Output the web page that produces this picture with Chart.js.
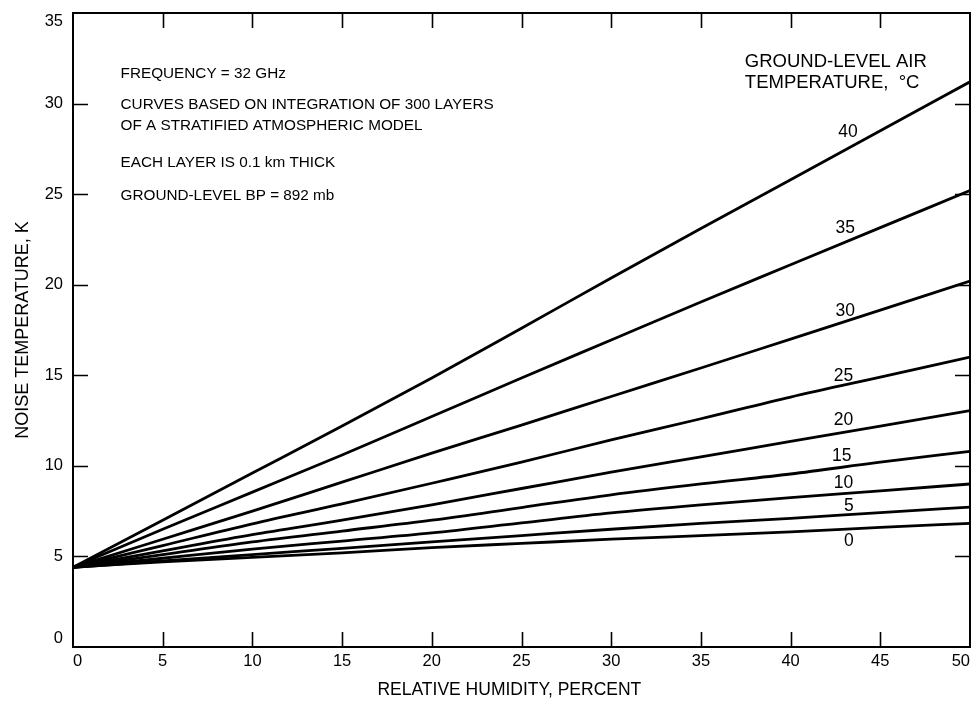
<!DOCTYPE html>
<html><head><meta charset="utf-8">
<script src="https://cdn.jsdelivr.net/npm/chart.js@4/dist/chart.umd.min.js"></script>
<style>html,body{margin:0;padding:0;background:#fff}#wrap{width:976px;height:704px}</style>
</head><body><div id="wrap"><canvas id="c" width="976" height="704"></canvas></div>
<script>
// ---- data ----
const humidity = [0, 5, 10, 15, 20, 25, 30, 35, 40, 45, 50];           // relative humidity, percent
const airTempLabels = ['0', '5', '10', '15', '20', '25', '30', '35', '40']; // ground-level air temperature, °C
const noise_0C  = [4.4, 4.7, 4.95, 5.2, 5.49, 5.72, 5.95, 6.15, 6.35, 6.6, 6.83];
const noise_5C  = [4.4, 4.75, 5.1, 5.45, 5.8, 6.15, 6.5, 6.82, 7.1, 7.42, 7.72];
const noise_10C = [4.4, 4.9, 5.4, 5.85, 6.3, 6.85, 7.4, 7.85, 8.25, 8.62, 9.0];
const noise_15C = [4.4, 5.1, 5.8, 6.4, 7.0, 7.7, 8.4, 9.0, 9.55, 10.2, 10.8];
const noise_20C = [4.4, 5.3, 6.2, 7.0, 7.85, 8.75, 9.65, 10.5, 11.35, 12.2, 13.05];
const noise_25C = [4.4, 5.6, 6.8, 7.9, 9.04, 10.2, 11.44, 12.6, 13.8, 14.9, 16.0];
const noise_30C = [4.4, 5.95, 7.5, 9.1, 10.7, 12.25, 13.83, 15.4, 17.0, 18.6, 20.2];
const noise_35C = [4.4, 6.5, 8.55, 10.6, 12.72, 14.85, 16.95, 19.05, 21.1, 23.15, 25.2];
const noise_40C = [4.4, 7.0, 9.6, 12.2, 14.85, 17.6, 20.37, 23.1, 25.8, 28.5, 31.2];
const xTicks = [0, 5, 10, 15, 20, 25, 30, 35, 40, 45, 50];
const yTicks = [0, 5, 10, 15, 20, 25, 30, 35];
const noteLines = ['FREQUENCY = 32 GHz', 'CURVES BASED ON INTEGRATION OF 300 LAYERS', 'OF A STRATIFIED ATMOSPHERIC MODEL', 'EACH LAYER IS 0.1 km THICK', 'GROUND-LEVEL BP = 892 mb'];
const legendTitle = ['GROUND-LEVEL AIR', 'TEMPERATURE,  °C'];
const xTitle = 'RELATIVE HUMIDITY, PERCENT';
const yTitle = 'NOISE TEMPERATURE, K';

const allSeries = [noise_0C, noise_5C, noise_10C, noise_15C, noise_20C, noise_25C, noise_30C, noise_35C, noise_40C];

// ---- presentation ----
const FONT = '"Liberation Sans", Arial, Helvetica, sans-serif';
const labelPos = { // curve-label positions in data units (x, y)
  '40': [43.2, 28.4], '35': [43.05, 23.1], '30': [43.05, 18.56], '25': [42.95, 14.97],
  '20': [42.95, 12.54], '15': [42.85, 10.55], '10': [42.95, 9.06], '5': [43.25, 7.79], '0': [43.25, 5.86]
};
const notePos = [[2.65, 31.65], [2.65, 29.95], [2.65, 28.8], [2.65, 26.75], [2.65, 24.9]];
const legendPos = [[37.45, 32.3], [37.45, 31.15]];

const decor = {
  id: 'decor',
  afterDraw(chart) {
    const ctx = chart.ctx, a = chart.chartArea;
    const xs = chart.scales.x, ys = chart.scales.y;
    ctx.save();
    ctx.strokeStyle = '#000';
    ctx.lineWidth = 2;
    ctx.strokeRect(a.left, a.top, a.right - a.left, a.bottom - a.top);
    const L = 15;
    ctx.beginPath();
    xTicks.forEach(v => {
      if (v === xTicks[0] || v === xTicks[xTicks.length - 1]) return;
      const px = Math.round(xs.getPixelForValue(v)) + 0.5;
      ctx.moveTo(px, a.bottom); ctx.lineTo(px, a.bottom - L);
      ctx.moveTo(px, a.top); ctx.lineTo(px, a.top + L);
    });
    yTicks.forEach(v => {
      if (v === yTicks[0] || v === yTicks[yTicks.length - 1]) return;
      const py = Math.round(ys.getPixelForValue(v)) + 0.5;
      ctx.moveTo(a.left, py); ctx.lineTo(a.left + L, py);
      ctx.moveTo(a.right, py); ctx.lineTo(a.right - L, py);
    });
    ctx.lineWidth = 1.6;
    ctx.stroke();

    ctx.fillStyle = '#000';
    ctx.textBaseline = 'middle';
    ctx.textAlign = 'left';
    ctx.font = '15.3px ' + FONT;
    noteLines.forEach((t, i) => {
      ctx.fillText(t, xs.getPixelForValue(notePos[i][0]), ys.getPixelForValue(notePos[i][1]));
    });
    ctx.font = '18.5px ' + FONT;
    legendTitle.forEach((t, i) => {
      ctx.fillText(t, xs.getPixelForValue(legendPos[i][0]), ys.getPixelForValue(legendPos[i][1]));
    });
    ctx.font = '17.5px ' + FONT;
    ctx.textAlign = 'center';
    airTempLabels.forEach(t => {
      const p = labelPos[t];
      ctx.fillText(t, xs.getPixelForValue(p[0]), ys.getPixelForValue(p[1]));
    });
    ctx.restore();
  }
};

new Chart(document.getElementById('c'), {
  type: 'line',
  data: {
    labels: humidity,
    datasets: allSeries.map((s, i) => ({
      label: airTempLabels[i] + ' °C',
      data: humidity.map((h, j) => ({ x: h, y: s[j] })),
      borderColor: '#000',
      borderWidth: 2.8,
      pointRadius: 0,
      fill: false,
      cubicInterpolationMode: 'monotone'
    }))
  },
  options: {
    responsive: false,
    animation: false,
    devicePixelRatio: 1,
    layout: { padding: { top: 13, right: 6, left: 0, bottom: 0 } },
    plugins: { legend: { display: false }, tooltip: { enabled: false } },
    scales: {
      x: {
        type: 'linear', min: 0, max: 50,
        grid: { display: false, drawTicks: false },
        border: { display: false },
        afterBuildTicks(s) { s.ticks = xTicks.map(v => ({ value: v })); },
        ticks: { color: '#000', font: { family: FONT, size: 16.5 }, padding: 5, maxRotation: 0, align: 'inner' },
        title: { display: true, text: xTitle + '     ', color: '#000', font: { family: FONT, size: 17.5 }, padding: { top: 0, bottom: 3 } },
        afterFit(s) { s.height = 57; s.paddingLeft = 0; s.paddingRight = 0; }
      },
      y: {
        type: 'linear', min: 0, max: 35,
        grid: { display: false, drawTicks: false },
        border: { display: false },
        afterBuildTicks(s) { s.ticks = yTicks.map(v => ({ value: v })); },
        ticks: {
          color: '#000', font: { family: FONT, size: 16.5, lineHeight: 1 }, padding: 10,
          callback: v => v === yTicks[0] ? [String(v), ''] : (v === yTicks[yTicks.length - 1] ? ['', String(v)] : String(v))
        },
        title: { display: true, text: yTitle, color: '#000', font: { family: FONT, size: 18 }, padding: { top: 12, bottom: 0 } },
        afterFit(s) { s.width = 73; s.paddingTop = 0; s.paddingBottom = 0; }
      }
    }
  },
  plugins: [decor]
});
</script>
</body></html>
